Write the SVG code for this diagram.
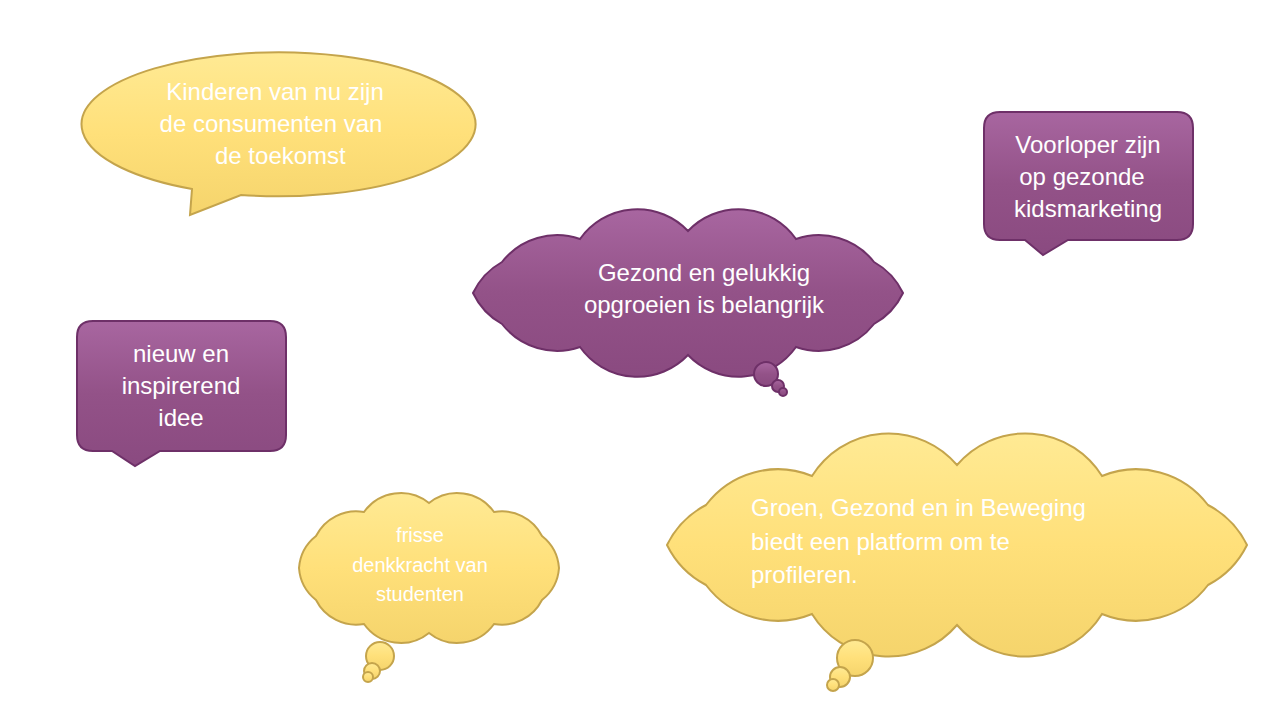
<svg xmlns="http://www.w3.org/2000/svg" width="1280" height="720" viewBox="0 0 1280 720">
<defs>
<linearGradient id="gy" x1="0" y1="0" x2="0" y2="1"><stop offset="0" stop-color="#FFEA94"/><stop offset="0.5" stop-color="#FFE07A"/><stop offset="1" stop-color="#F5D46C"/></linearGradient>
<linearGradient id="gp" x1="0" y1="0" x2="0" y2="1"><stop offset="0" stop-color="#A866A0"/><stop offset="0.5" stop-color="#935288"/><stop offset="1" stop-color="#8A4A80"/></linearGradient>
</defs>
<style>
.y{fill:url(#gy);stroke:#C4A44C;stroke-width:2}
.p{fill:url(#gp);stroke:#6E3068;stroke-width:2}
text{font-family:"Liberation Sans",Arial,sans-serif;fill:#fff;text-anchor:middle}
.t24{font-size:24px}.t20{font-size:20px}
</style>
<rect width="1280" height="720" fill="#fff"/>
<g id="n1">
<path class="y" d="M241,195 A197 72 0 1 0 192,189 L190,215 Z"/>
<text class="t24" x="275" y="100">Kinderen van nu zijn</text>
<text class="t24" x="271" y="132">de consumenten van</text>
<text class="t24" x="215" y="164" text-anchor="start" style="text-anchor:start">de toekomst</text>
</g>
<g id="n2">
<path class="p" d="M1000,112 H1177 Q1193,112 1193,128 V224 Q1193,240 1177,240 H1068 L1043,255 L1025,240 H1000 Q984,240 984,224 V128 Q984,112 1000,112 Z"/>
<text class="t24" x="1088" y="153">Voorloper zijn</text>
<text class="t24" x="1082" y="185">op gezonde</text>
<text class="t24" x="1088" y="217">kidsmarketing</text>
</g>
<g id="n3">
<path class="p" d="M903,293 A70 70 0 0 1 874,324 A70 70 0 0 1 796,347 A70 70 0 0 1 688,355 A70 70 0 0 1 580,347 A70 70 0 0 1 502,324 A70 70 0 0 1 473,293 A70 70 0 0 1 502,262 A70 70 0 0 1 580,239 A70 70 0 0 1 688,231 A70 70 0 0 1 796,239 A70 70 0 0 1 874,262 A70 70 0 0 1 903,293 Z"/>
<circle class="p" cx="766" cy="374" r="12"/><circle class="p" cx="778" cy="386" r="6"/><circle class="p" cx="783" cy="392" r="4"/>
<text class="t24" x="704" y="281">Gezond en gelukkig</text>
<text class="t24" x="704" y="313">opgroeien is belangrijk</text>
</g>
<g id="n4">
<path class="p" d="M93,321 H270 Q286,321 286,337 V435 Q286,451 270,451 H160 L135,466 L112,451 H93 Q77,451 77,435 V337 Q77,321 93,321 Z"/>
<text class="t24" x="181" y="362">nieuw en</text>
<text class="t24" x="181" y="394">inspirerend</text>
<text class="t24" x="181" y="426">idee</text>
</g>
<g id="n5">
<path class="y" d="M559,568 A45 45 0 0 1 542,600 A45 45 0 0 1 494,624 A45 45 0 0 1 429,633 A45 45 0 0 1 364,624 A45 45 0 0 1 316,600 A45 45 0 0 1 299,568 A45 45 0 0 1 316,536 A45 45 0 0 1 364,512 A45 45 0 0 1 429,503 A45 45 0 0 1 494,512 A45 45 0 0 1 542,536 A45 45 0 0 1 559,568 Z"/>
<circle class="y" cx="380" cy="656" r="14"/><circle class="y" cx="372" cy="671" r="8"/><circle class="y" cx="368" cy="677" r="5"/>
<text class="t20" x="420" y="542">frisse</text>
<text class="t20" x="420" y="572">denkkracht van</text>
<text class="t20" x="420" y="601">studenten</text>
</g>
<g id="n6">
<path class="y" d="M1247,545 A90 90 0 0 1 1208,585 A90 90 0 0 1 1102,614 A90 90 0 0 1 957,625 A90 90 0 0 1 812,614 A90 90 0 0 1 706,585 A90 90 0 0 1 667,545 A90 90 0 0 1 706,505 A90 90 0 0 1 812,476 A90 90 0 0 1 957,465 A90 90 0 0 1 1102,476 A90 90 0 0 1 1208,505 A90 90 0 0 1 1247,545 Z"/>
<circle class="y" cx="855" cy="658" r="18"/><circle class="y" cx="840" cy="677" r="10"/><circle class="y" cx="833" cy="685" r="6"/>
<text class="t24" x="751" y="516" style="text-anchor:start">Groen, Gezond en in Beweging</text>
<text class="t24" x="751" y="550" style="text-anchor:start">biedt een platform om te</text>
<text class="t24" x="751" y="583" style="text-anchor:start">profileren.</text>
</g>
<g id="connectors"></g>
</svg>
